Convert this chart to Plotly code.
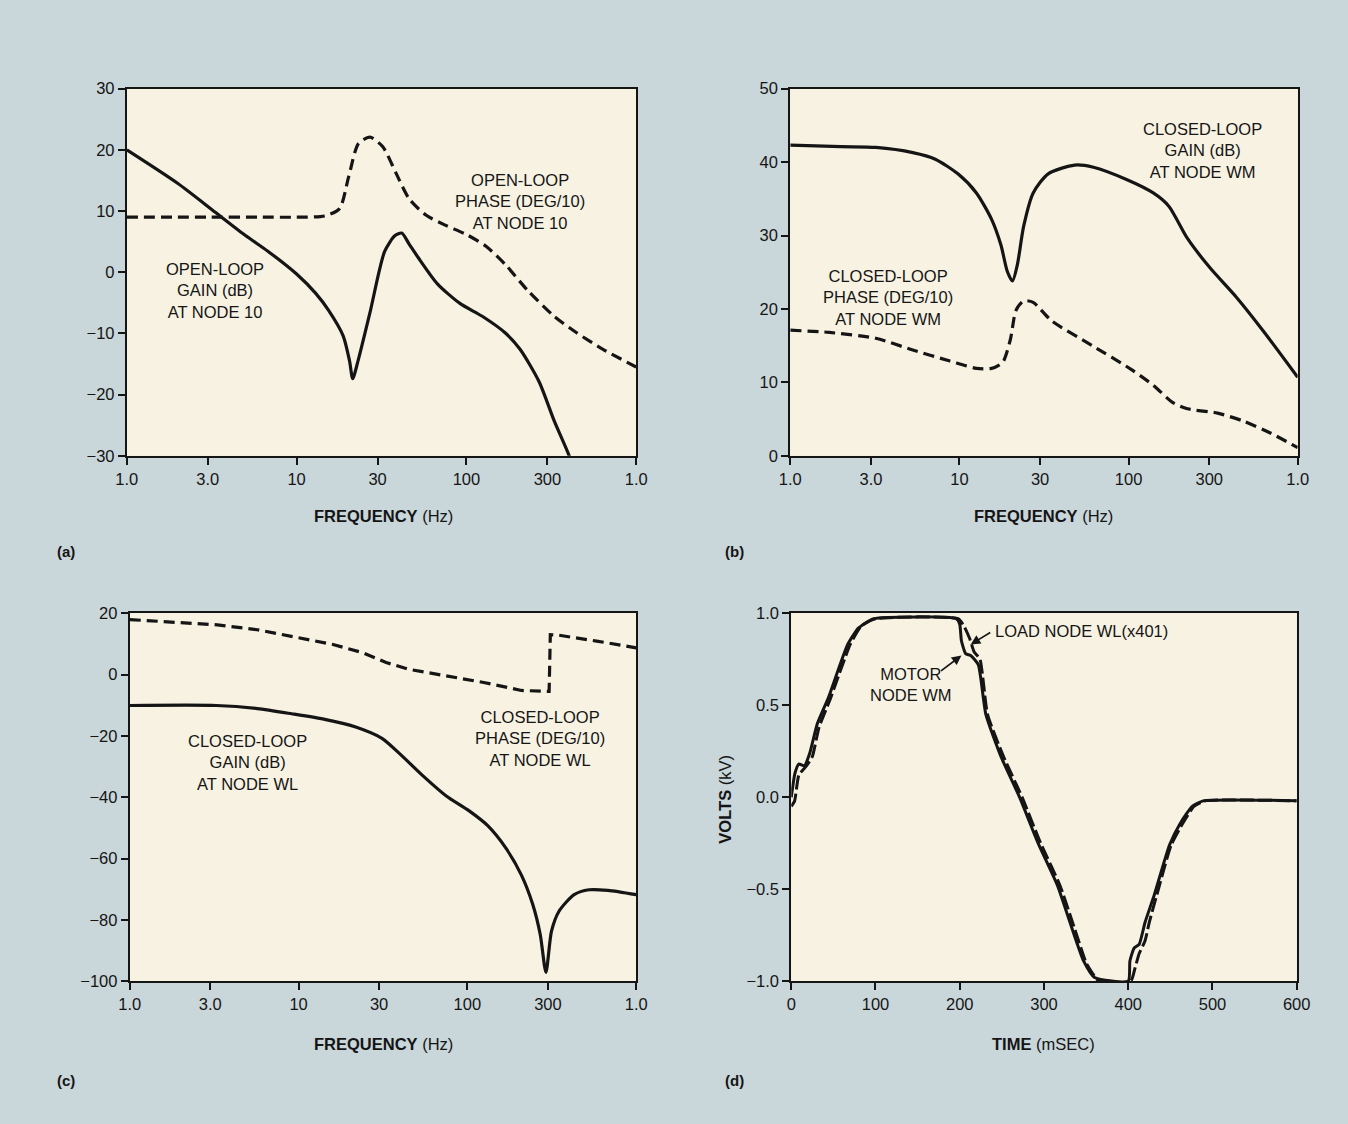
import math
import plotly.graph_objects as go

# ---------------- DATA ----------------
freq_ticks = [1, 3, 10, 30, 100, 300, 1000]
freq_ticktext = ["1.0", "3.0", "10", "30", "100", "300", "1.0"]

# (a) open-loop at node 10
a_gain_f = [1, 2, 3.32, 5, 6.8, 10, 13, 15.4, 18.8, 20.5, 21.4, 23, 27, 33, 38, 41.6, 46, 52, 67.5, 91.6, 124, 169, 207, 268, 329, 403, 460]
a_gain_v = [20, 14.5, 9.8, 6, 3.4, -0.3, -3.5, -6.2, -10.4, -14.5, -17.4, -14.5, -6.7, 3.4, 6.0, 6.4, 4.6, 2.4, -1.9, -5.1, -7.2, -9.9, -12.6, -17.9, -24.3, -30, -35]
a_phase_f = [1, 3, 6, 10, 14.6, 17.9, 20.3, 23.1, 27, 32.2, 38.5, 46, 58, 75, 101, 131, 169, 230, 329, 446, 638, 1000]
a_phase_v = [9.0, 9.0, 9.0, 9.0, 9.2, 10.4, 15.7, 21.0, 22.1, 20.5, 16.2, 12.0, 9.3, 7.7, 6.1, 4.2, 1.3, -3.0, -7.2, -9.9, -12.6, -15.5]

# (b) closed-loop at node WM
b_gain_f = [1, 2, 3.2, 5.3, 7.2, 9.8, 12.6, 15.5, 17.6, 19.2, 20.6, 22, 24, 27.3, 33.5, 48, 62, 98, 140, 173, 223, 303, 434, 621, 1000]
b_gain_v = [42.3, 42.1, 42.0, 41.3, 40.4, 38.4, 35.8, 32.2, 28.7, 25.1, 23.8, 26.0, 31.3, 35.8, 38.4, 39.6, 39.3, 37.6, 35.8, 34.0, 29.6, 25.6, 21.6, 17.1, 10.7]
b_phase_f = [1, 1.7, 3.2, 5.3, 8.8, 12.6, 15.5, 18, 20, 21.6, 24, 27.3, 35, 62, 103, 140, 181, 223, 336, 480, 689, 1000]
b_phase_v = [17.1, 16.8, 16.0, 14.4, 12.9, 11.9, 11.9, 12.7, 15.8, 19.8, 21.1, 20.9, 18.4, 14.9, 11.8, 9.6, 7.3, 6.4, 5.8, 4.7, 3.1, 1.1]

# (c) closed-loop at node WL
c_gain_f = [1, 3.26, 5.7, 9.1, 14.5, 21.8, 31.2, 40.4, 55, 75, 102, 132, 170, 209, 244, 270, 292, 315, 349, 429, 526, 680, 1000]
c_gain_v = [-10.1, -10.1, -11.1, -12.8, -14.7, -17.1, -20.8, -26.2, -33.2, -39.6, -44.4, -49.3, -56.8, -65.4, -75.0, -84.7, -97.1, -83.7, -77.2, -71.8, -70.2, -70.4, -71.8]
c_phase_f = [1, 3.3, 5.7, 9.1, 16, 24, 33, 45, 75, 125, 209, 299, 305, 310, 349, 583, 1000]
c_phase_v = [17.9, 16.2, 14.6, 12.5, 9.8, 7.1, 3.9, 1.7, -0.4, -2.6, -5.2, -5.5, -5.5, 13.0, 12.8, 10.9, 8.7]

# (d) time response
d_motor_t = [0, 4.4, 8.9, 15.6, 22, 31, 44, 67, 80, 98, 196, 200, 202, 207, 213, 222, 231, 249, 271, 293, 316, 333, 347, 360, 400, 402, 407, 413, 420, 431, 449, 462, 476, 489, 600]
d_motor_v = [0.0, 0.13, 0.18, 0.17, 0.24, 0.40, 0.54, 0.83, 0.92, 0.97, 0.97, 0.94, 0.85, 0.78, 0.77, 0.72, 0.45, 0.22, 0.0, -0.25, -0.48, -0.71, -0.89, -0.98, -1.0, -0.89, -0.82, -0.80, -0.68, -0.53, -0.26, -0.14, -0.05, -0.02, -0.02]
d_load_t = [0, 4, 9, 18, 25, 33, 46, 70, 83, 100, 198, 205, 212, 217, 224, 233, 252, 274, 296, 319, 336, 350, 358, 365, 403, 408, 413, 420, 425, 434, 451, 465, 478, 491, 600]
d_load_v = [-0.05, -0.02, 0.12, 0.17, 0.22, 0.38, 0.53, 0.83, 0.93, 0.97, 0.97, 0.93, 0.86, 0.79, 0.75, 0.45, 0.22, 0.0, -0.25, -0.48, -0.71, -0.90, -0.96, -1.0, -1.0, -0.93, -0.85, -0.78, -0.68, -0.53, -0.26, -0.14, -0.05, -0.02, -0.02]
time_ticks = [0, 100, 200, 300, 400, 500, 600]

# ---------------- FIGURE ----------------
W, H = 1348, 1124
FONT = "Liberation Sans, Arial, Helvetica, sans-serif"
PAGE_BG = "#c9d6da"
PLOT_BG = "#f7f2e2"
INK = "#151515"
FS = 16.5


def px_x(p):
    return p / W


def px_y(p):
    return 1 - p / H


fig = go.Figure()

panels = {
    "a": dict(x=(118, 637), y=(81, 454)),
    "b": dict(x=(794, 1311), y=(81, 454)),
    "c": dict(x=(121, 637), y=(614, 988)),
    "d": dict(x=(795, 1310), y=(614, 988)),
}
axis_ids = {"a": ("x", "y"), "b": ("x2", "y2"), "c": ("x3", "y3"), "d": ("x4", "y4")}

solid = dict(color=INK, width=3.2, shape="spline", smoothing=0.7)
dashed = dict(color=INK, width=3.2, dash="11px,6px", shape="spline", smoothing=0.7)


def add(xs, ys, panel, line):
    xa, ya = axis_ids[panel]
    fig.add_trace(go.Scatter(x=xs, y=ys, mode="lines", line=line, xaxis=xa, yaxis=ya,
                             showlegend=False, hoverinfo="skip"))


add(a_gain_f, a_gain_v, "a", solid)
add(a_phase_f, a_phase_v, "a", dashed)
add(b_gain_f, b_gain_v, "b", solid)
add(b_phase_f, b_phase_v, "b", dashed)
add(c_gain_f, c_gain_v, "c", solid)
add(c_phase_f, c_phase_v, "c", dict(color=INK, width=3.2, dash="11px,6px"))
add(d_motor_t, d_motor_v, "d", dict(color=INK, width=3, shape="spline", smoothing=0.5))
add(d_load_t, d_load_v, "d", dict(color=INK, width=3, dash="14px,4px", shape="spline", smoothing=0.5))

common_axis = dict(showline=True, linecolor=INK, linewidth=2, mirror=True, ticks="outside",
                   ticklen=7, tickwidth=2, tickcolor=INK, showgrid=False, zeroline=False,
                   tickfont=dict(family=FONT, size=FS, color=INK))

layout_axes = {}
yranges = {"a": ([-30, 30], 10), "b": ([0, 50], 10), "c": ([-100, 20], 20), "d": ([-1, 1], 0.5)}
for i, p in enumerate(["a", "b", "c", "d"]):
    suffix = "" if i == 0 else str(i + 1)
    dom = panels[p]
    xd = [px_x(dom["x"][0]), px_x(dom["x"][1])]
    yd = [px_y(dom["y"][1]), px_y(dom["y"][0])]
    if p == "d":
        xa = dict(common_axis, domain=xd, range=[0, 600], tickvals=time_ticks,
                  anchor="y" + suffix)
    else:
        xa = dict(common_axis, domain=xd, type="log", range=[0, 3], tickvals=freq_ticks,
                  ticktext=freq_ticktext, anchor="y" + suffix)
    yr, dt = yranges[p]
    ya = dict(common_axis, domain=yd, range=yr, dtick=dt, tick0=yr[0], anchor="x" + suffix)
    if p == "d":
        ya["tickformat"] = ".1f"
    layout_axes["xaxis" + suffix] = xa
    layout_axes["yaxis" + suffix] = ya

fig.update_layout(**layout_axes)

annotations = []


def label(text, xref, yref, x, y, size=FS, **kw):
    d = dict(text=text, xref=xref, yref=yref, x=x, y=y, showarrow=False,
             xanchor="center", yanchor="middle",
             font=dict(family=FONT, size=size, color=INK), align="center")
    d.update(kw)
    annotations.append(d)


# curve labels (log axes use log10 values for annotation x)
label("OPEN-LOOP<br>GAIN (dB)<br>AT NODE 10", "x", "y", math.log10(3.3), -3)
label("OPEN-LOOP<br>PHASE (DEG/10)<br>AT NODE 10", "x", "y", math.log10(207), 11.6)
label("CLOSED-LOOP<br>GAIN (dB)<br>AT NODE WM", "x2", "y2", math.log10(274), 41.6)
label("CLOSED-LOOP<br>PHASE (DEG/10)<br>AT NODE WM", "x2", "y2", math.log10(3.8), 21.5)
label("CLOSED-LOOP<br>GAIN (dB)<br>AT NODE WL", "x3", "y3", math.log10(5.0), -28.7)
label("CLOSED-LOOP<br>PHASE (DEG/10)<br>AT NODE WL", "x3", "y3", math.log10(270), -20.8)

# (d) arrows
label("LOAD NODE WL(x401)", "x4", "y4", 240, 0.905, xanchor="left")
annotations.append(dict(text="", xref="x4", yref="y4", x=213, y=0.83, axref="x4", ayref="y4",
                        ax=238, ay=0.9, showarrow=True, arrowhead=2, arrowsize=1.2,
                        arrowwidth=1.6, arrowcolor=INK))
label("MOTOR<br>NODE WM", "x4", "y4", 142, 0.615)
annotations.append(dict(text="", xref="x4", yref="y4", x=202, y=0.77, axref="x4", ayref="y4",
                        ax=176, ay=0.68, showarrow=True, arrowhead=2, arrowsize=1.2,
                        arrowwidth=1.6, arrowcolor=INK))

# axis titles
label("<b>FREQUENCY</b> (Hz)", "paper", "paper", px_x(380), px_y(515))
label("<b>FREQUENCY</b> (Hz)", "paper", "paper", px_x(1052), px_y(515))
label("<b>FREQUENCY</b> (Hz)", "paper", "paper", px_x(380), px_y(1052))
label("<b>TIME</b> (mSEC)", "paper", "paper", px_x(1052), px_y(1052))
label("<b>VOLTS</b> (kV)", "paper", "paper", px_x(728), px_y(803), textangle=-90)

# panel letters
label("<b>(a)</b>", "paper", "paper", px_x(56), px_y(551), size=15)
label("<b>(b)</b>", "paper", "paper", px_x(737), px_y(551), size=15)
label("<b>(c)</b>", "paper", "paper", px_x(56), px_y(1089), size=15)
label("<b>(d)</b>", "paper", "paper", px_x(737), px_y(1089), size=15)

shapes = []
for p in ["a", "b", "c", "d"]:
    dom = panels[p]
    shapes.append(dict(type="rect", xref="paper", yref="paper", layer="below",
                       x0=px_x(dom["x"][0]), x1=px_x(dom["x"][1]),
                       y0=px_y(dom["y"][1]), y1=px_y(dom["y"][0]),
                       fillcolor=PLOT_BG, line=dict(width=0)))

fig.update_layout(width=W, height=H, margin=dict(l=0, r=0, t=0, b=0),
                  paper_bgcolor=PAGE_BG, plot_bgcolor=PLOT_BG,
                  annotations=annotations, shapes=shapes, showlegend=False,
                  font=dict(family=FONT, color=INK))

post = ("document.documentElement.style.margin='0';"
        "document.documentElement.style.overflow='hidden';"
        "document.documentElement.style.height='" + str(H) + "px';"
        "document.body.style.margin='0';document.body.style.padding='0';"
        "document.body.style.overflow='hidden';"
        "document.body.style.height='" + str(H) + "px';"
        "document.body.style.background='" + PAGE_BG + "';"
        "var gd=document.getElementById('{plot_id}');"
        "gd.style.position='fixed';gd.style.left='0px';gd.style.top='0px';")
fig.write_html("out.html", post_script=post, config={"displayModeBar": False})
